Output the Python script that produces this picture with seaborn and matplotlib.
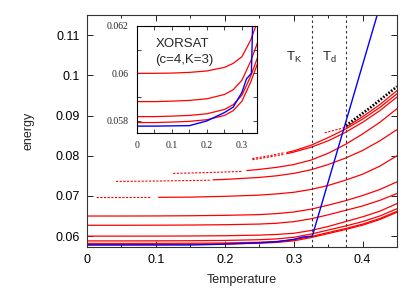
import matplotlib
matplotlib.use("Agg")
import matplotlib.pyplot as plt
import seaborn as sns
from matplotlib.ticker import MultipleLocator, FormatStrFormatter

# temperature grid used by the low-lying curves
temps = [0, 0.05, 0.1, 0.15, 0.2, 0.25, 0.275, 0.3, 0.325, 0.35, 0.375, 0.4, 0.425, 0.45]

# lowest states (also shown in the inset)
curve1 = [0.05793, 0.05793, 0.05795, 0.05798, 0.05805, 0.05823, 0.05843, 0.05883,
          0.05963, 0.06063, 0.06163, 0.06273, 0.06413, 0.06593]
curve2 = [0.05818, 0.05818, 0.0582, 0.05823, 0.0583, 0.05848, 0.05868, 0.05908,
          0.05988, 0.06088, 0.06188, 0.06298, 0.06438, 0.06618]
curve3 = [0.05881, 0.05881, 0.05883, 0.05886, 0.05893, 0.05911, 0.05931, 0.05971,
          0.06051, 0.06151, 0.06251, 0.06361, 0.06501, 0.06681]
curve4 = [0.0600, 0.0600, 0.06001, 0.06004, 0.0601, 0.06025, 0.06042, 0.0607,
          0.0614, 0.0624, 0.0636, 0.0648, 0.0662, 0.0681]
curve5 = [0.0627, 0.0627, 0.06272, 0.06276, 0.06284, 0.063, 0.0632, 0.0636,
          0.0643, 0.0653, 0.0664, 0.0675, 0.0689, 0.0706]
curve6 = [0.0650, 0.0650, 0.06502, 0.06507, 0.06517, 0.06535, 0.0656, 0.0660,
          0.0667, 0.0677, 0.0688, 0.0701, 0.0716, 0.0735]

# higher states: dashed (unstable) part, then solid part
c7_dash_t = [0.014, 0.05, 0.094]
c7_dash_e = [0.0696, 0.0696, 0.06962]
c7_t = [0.104, 0.15, 0.2, 0.25, 0.275, 0.3, 0.325, 0.35, 0.375, 0.4, 0.425, 0.45]
c7_e = [0.06965, 0.0697, 0.0699, 0.0702, 0.0705, 0.0709, 0.0716, 0.0726, 0.0739,
        0.0754, 0.0774, 0.0800]

c8_dash_t = [0.042, 0.1, 0.178]
c8_dash_e = [0.0736, 0.0737, 0.0739]
c8_t = [0.183, 0.2, 0.25, 0.275, 0.3, 0.325, 0.35, 0.375, 0.4, 0.425, 0.45]
c8_e = [0.0740, 0.0741, 0.0746, 0.075, 0.0756, 0.0765, 0.0778, 0.0794, 0.0813,
        0.0837, 0.0865]

c9_dash_t = [0.125, 0.175, 0.226]
c9_dash_e = [0.0756, 0.0758, 0.0761]
c9_t = [0.232, 0.25, 0.275, 0.3, 0.325, 0.35, 0.375, 0.4, 0.425, 0.45]
c9_e = [0.0763, 0.0766, 0.0771, 0.0778, 0.0789, 0.0806, 0.0828, 0.0854, 0.0883, 0.0917]

c10_dash_t = [0.24, 0.265, 0.285]
c10_dash_e = [0.0790, 0.0797, 0.0803]
c10_t = [0.29, 0.3, 0.325, 0.35, 0.375, 0.4, 0.425, 0.45]
c10_e = [0.0805, 0.0809, 0.0821, 0.0837, 0.0858, 0.0883, 0.0912, 0.0946]

c11_dash_t = [0.24, 0.265, 0.285]
c11_dash_e = [0.0793, 0.0800, 0.0807]
c11_t = [0.29, 0.3, 0.325, 0.35, 0.375, 0.4, 0.425, 0.45]
c11_e = [0.0808, 0.0812, 0.0826, 0.0845, 0.0866, 0.0891, 0.0920, 0.0954]

c12_dash_t = [0.345, 0.376]
c12_dash_e = [0.0857, 0.0871]
c12_t = [0.376, 0.4, 0.425, 0.45]
c12_e = [0.0871, 0.0897, 0.0927, 0.0962]

# equilibrium (blue) and threshold (black dotted)
eq_t = [0, 0.05, 0.1, 0.15, 0.2, 0.25, 0.275, 0.3, 0.313, 0.327, 0.425]
eq_e = [0.05778, 0.05778, 0.05779, 0.0578, 0.058, 0.05835, 0.05858, 0.0592,
        0.05977, 0.0600, 0.1172]
th_t = [0.376, 0.41, 0.45]
th_e = [0.0875, 0.0918, 0.0972]

T_K = 0.327
T_d = 0.376

sns.set_theme(style="ticks")
plt.rcParams["font.family"] = ["Liberation Sans", "DejaVu Sans"]
plt.rcParams["mathtext.default"] = "regular"

fig = plt.figure(figsize=(4.11, 2.88), dpi=100)
ax = fig.add_axes([0.2117, 0.1424, 0.7543, 0.8056])
axin = fig.add_axes([0.3333, 0.539, 0.292, 0.3715])

red = "#ff0000"
dash = (0, (2.0, 1.3))


def draw(a, t, e, **kw):
    sns.lineplot(x=t, y=e, ax=a, estimator=None, sort=False, legend=False, **kw)


# main panel
for e in [curve1, curve2, curve3, curve4, curve5, curve6]:
    draw(ax, temps, e, color=red, linewidth=0.9)
for dt, de, st, se in [(c7_dash_t, c7_dash_e, c7_t, c7_e),
                       (c8_dash_t, c8_dash_e, c8_t, c8_e),
                       (c9_dash_t, c9_dash_e, c9_t, c9_e),
                       (c10_dash_t, c10_dash_e, c10_t, c10_e),
                       (c11_dash_t, c11_dash_e, c11_t, c11_e),
                       (c12_dash_t, c12_dash_e, c12_t, c12_e)]:
    draw(ax, dt, de, color=red, linewidth=0.8, linestyle=dash)
    draw(ax, st, se, color=red, linewidth=0.9)

draw(ax, eq_t, eq_e, color="#0000ff", linewidth=1.0)
draw(ax, th_t, th_e, color="black", linewidth=2.0, linestyle=(0, (0.6, 0.6)))

for tv in [T_K, T_d]:
    ax.axvline(tv, color="#333333", linewidth=0.8, linestyle=(0, (2.2, 2.5)))
ax.text(0.301, 0.1045, "T$_K$", fontsize=9.5, ha="center", va="center")
ax.text(0.352, 0.1045, "T$_d$", fontsize=9.5, ha="center", va="center")

ax.set_xlim(0, 0.45)
ax.set_ylim(0.0573, 0.115)
ax.xaxis.set_major_locator(MultipleLocator(0.1))
ax.xaxis.set_minor_locator(MultipleLocator(0.05))
ax.yaxis.set_major_locator(MultipleLocator(0.01))
ax.xaxis.set_major_formatter(FormatStrFormatter("%g"))
ax.yaxis.set_major_formatter(FormatStrFormatter("%g"))
ax.tick_params(which="both", direction="in", top=True, right=True, width=0.6,
               labelsize=9, colors="black")
ax.tick_params(which="major", length=4, pad=5)
ax.tick_params(which="minor", length=2.5)
ax.set_xlabel("Temperature", fontsize=9, labelpad=6)
ax.set_ylabel("energy", fontsize=9, labelpad=15)
for s in ax.spines.values():
    s.set_linewidth(0.8)
    s.set_color("#333333")

# inset
for e in [curve1, curve2, curve3, curve4]:
    draw(axin, temps, e, color=red, linewidth=0.9)
draw(axin, eq_t, eq_e, color="#0000ff", linewidth=1.0)
axin.set_xlim(0, 0.343)
axin.set_ylim(0.0575, 0.0620)
axin.xaxis.set_major_locator(MultipleLocator(0.1))
axin.xaxis.set_minor_locator(MultipleLocator(0.05))
axin.yaxis.set_major_locator(MultipleLocator(0.002))
axin.yaxis.set_minor_locator(MultipleLocator(0.001))
axin.xaxis.set_major_formatter(FormatStrFormatter("%g"))
axin.yaxis.set_major_formatter(FormatStrFormatter("%g"))
axin.tick_params(which="both", direction="in", top=True, right=True, width=0.6,
                 labelsize=7)
axin.tick_params(which="major", length=3, pad=6)
axin.tick_params(which="minor", length=3)
for lab in axin.get_xticklabels() + axin.get_yticklabels():
    lab.set_fontfamily("Liberation Serif")
axin.set_xlabel("")
axin.set_ylabel("")
for s in axin.spines.values():
    s.set_linewidth(0.8)
    s.set_color("black")
axin.text(0.053, 0.06122, "XORSAT", fontsize=9.5, ha="left", va="center")
axin.text(0.053, 0.06055, "(c=4,K=3)", fontsize=9.5, ha="left", va="center")

fig.savefig("out.png", dpi=100)
